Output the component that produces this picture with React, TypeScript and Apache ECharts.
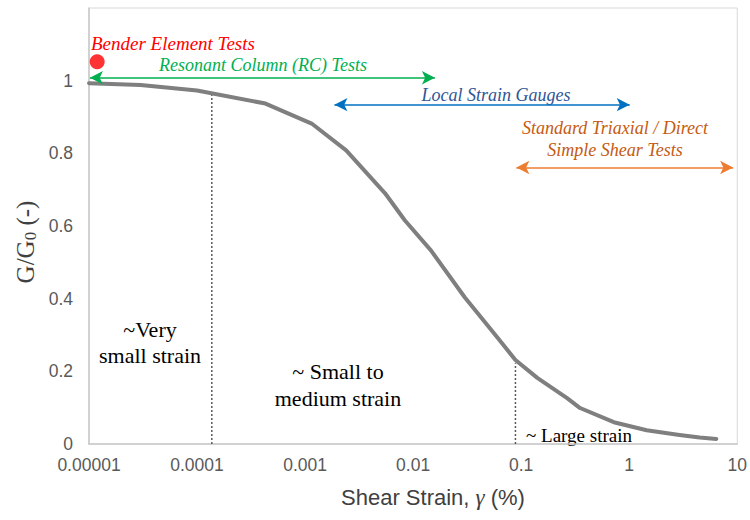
import React, { useEffect, useRef } from "react";
import * as echarts from "echarts";

// Shear modulus degradation curve (strain in %, G/G0)
const strain = [0.00001, 0.00003, 0.0001, 0.00043, 0.00115, 0.0024, 0.0055, 0.0084, 0.0146, 0.03, 0.06, 0.0885, 0.141, 0.266, 0.351, 0.72, 1.45, 2.92, 4.5, 6.4];
const ratio = [0.993, 0.988, 0.973, 0.937, 0.882, 0.808, 0.69, 0.615, 0.533, 0.404, 0.294, 0.231, 0.182, 0.126, 0.099, 0.06, 0.038, 0.025, 0.018, 0.014];

// Region boundaries (dotted lines)
const boundaryStrain = [0.000137, 0.0885];
const boundaryTop = [0.965, 0.222];

// Bender element point
const benderPoint = [0.0000119, 1.052];

// Test ranges [from, to, level]
const rcRange = [0.0000102, 0.0159, 1.008];
const lsgRange = [0.00187, 1.01, 0.934];
const triaxRange = [0.0903, 9.15, 0.761];

const xTickLabels = ["0.00001", "0.0001", "0.001", "0.01", "0.1", "1", "10"];
const yTicks = [0, 0.2, 0.4, 0.6, 0.8, 1];

const SERIF = "'Liberation Serif', 'Times New Roman', serif";
const SANS = "'Liberation Sans', Arial, sans-serif";

function rangeLine(r: number[], color: string) {
  return {
    type: "line",
    data: [],
    silent: true,
    markLine: {
      silent: true,
      symbol: ["arrow", "arrow"],
      symbolSize: [10, 13],
      label: { show: false },
      lineStyle: { color, width: 1.5, type: "solid" },
      emphasis: { disabled: true },
      data: [[{ coord: [r[0], r[2]] }, { coord: [r[1], r[2]] }]],
    },
  };
}

export default function App() {
  const ref = useRef<HTMLDivElement>(null);
  useEffect(() => {
    document.body.style.margin = "0";
    document.body.style.overflow = "hidden";
    if (!ref.current) return;
    const chart = echarts.init(ref.current, null, { renderer: "svg" });
    const option: any = {
      animation: false,
      grid: {
        left: 89,
        right: 10,
        top: 8,
        bottom: 76,
        show: true,
        borderColor: "#d9d9d9",
        borderWidth: 1,
      },
      xAxis: {
        type: "log",
        logBase: 10,
        min: 0.00001,
        max: 10,
        axisLine: { show: true, lineStyle: { color: "#c8c8c8", width: 1.5 } },
        axisTick: { show: false },
        splitLine: { show: false },
        minorTick: { show: false },
        axisLabel: {
          color: "#595959",
          fontFamily: SANS,
          fontSize: 17.5,
          margin: 12,
          formatter: (v: number) => xTickLabels[Math.round(Math.log10(v)) + 5] ?? "",
        },
      },
      yAxis: {
        type: "value",
        min: 0,
        max: 1.2,
        interval: 0.2,
        axisLine: { show: true, lineStyle: { color: "#c8c8c8", width: 1.5 } },
        axisTick: { show: false },
        splitLine: { show: false },
        axisLabel: {
          color: "#595959",
          fontFamily: SANS,
          fontSize: 17.5,
          margin: 16,
          showMaxLabel: false,
          formatter: (v: number) => {
            const t = yTicks.find((y) => Math.abs(y - v) < 1e-6);
            return t === undefined ? "" : String(t);
          },
        },
      },
      series: [
        {
          type: "line",
          data: strain.map((s, i) => [s, ratio[i]]),
          symbol: "none",
          smooth: false,
          lineStyle: { color: "#7f7f7f", width: 4, join: "round", cap: "round" },
          silent: true,
          z: 3,
        },
        ...boundaryStrain.map((s, i) => ({
          type: "line",
          data: [
            [s, 0],
            [s, boundaryTop[i]],
          ],
          symbol: "none",
          silent: true,
          lineStyle: { color: "#595959", width: 1.5, type: [2, 2] },
          z: 2,
        })),
        {
          type: "scatter",
          data: [benderPoint],
          symbolSize: 15,
          itemStyle: { color: "#ff0000" },
          silent: true,
        },
        rangeLine(rcRange, "#00b050"),
        rangeLine(lsgRange, "#0070c0"),
        rangeLine(triaxRange, "#ed7d31"),
      ],
      graphic: [
        {
          type: "text",
          style: { x: 91, y: 43, text: "Bender Element Tests", fill: "#ff0000", font: `italic 19px ${SERIF}`, textAlign: "left", textVerticalAlign: "middle" },
        },
        {
          type: "text",
          style: { x: 263, y: 65, text: "Resonant Column (RC) Tests", fill: "#00b050", font: `italic 18px ${SERIF}`, textAlign: "center", textVerticalAlign: "middle" },
        },
        {
          type: "text",
          style: { x: 496, y: 95, text: "Local Strain Gauges", fill: "#2f5597", font: `italic 18px ${SERIF}`, textAlign: "center", textVerticalAlign: "middle" },
        },
        {
          type: "text",
          style: { x: 615, y: 128, text: "Standard Triaxial / Direct", fill: "#c55a11", font: `italic 18px ${SERIF}`, textAlign: "center", textVerticalAlign: "middle" },
        },
        {
          type: "text",
          style: { x: 615, y: 150, text: "Simple Shear Tests", fill: "#c55a11", font: `italic 18px ${SERIF}`, textAlign: "center", textVerticalAlign: "middle" },
        },
        {
          type: "text",
          style: { x: 150, y: 329, text: "~Very", fill: "#000", font: `22px ${SERIF}`, textAlign: "center", textVerticalAlign: "middle" },
        },
        {
          type: "text",
          style: { x: 150, y: 355, text: "small strain", fill: "#000", font: `22px ${SERIF}`, textAlign: "center", textVerticalAlign: "middle" },
        },
        {
          type: "text",
          style: { x: 338, y: 371, text: "~ Small to", fill: "#000", font: `22px ${SERIF}`, textAlign: "center", textVerticalAlign: "middle" },
        },
        {
          type: "text",
          style: { x: 338, y: 398, text: "medium strain", fill: "#000", font: `22px ${SERIF}`, textAlign: "center", textVerticalAlign: "middle" },
        },
        {
          type: "text",
          style: { x: 526, y: 435, text: "~ Large strain", fill: "#000", font: `19px ${SERIF}`, textAlign: "left", textVerticalAlign: "middle" },
        },
        {
          type: "text",
          style: {
            x: 433,
            y: 497,
            text: "{a|Shear Strain, }{g|γ}{a| (%)}",
            textAlign: "center",
            textVerticalAlign: "middle",
            rich: {
              a: { fontFamily: SANS, fontSize: 22, fill: "#404040" },
              g: { fontFamily: SERIF, fontStyle: "italic", fontSize: 23, fill: "#404040" },
            },
          },
        },
        {
          type: "text",
          x: 25,
          y: 242,
          rotation: Math.PI / 2,
          style: {
            x: 0,
            y: 0,
            text: "{a|G/G}{s|0}{a| (-)}",
            textAlign: "center",
            textVerticalAlign: "middle",
            rich: {
              a: { fontFamily: SERIF, fontSize: 25, fill: "#404040" },
              s: { fontFamily: SERIF, fontSize: 17, fill: "#404040", padding: [11, 0, 0, 0] },
            },
          },
        },
      ],
    };
    chart.setOption(option);
    return () => chart.dispose();
  }, []);
  return <div ref={ref} style={{ width: 750, height: 520 }} />;
}
